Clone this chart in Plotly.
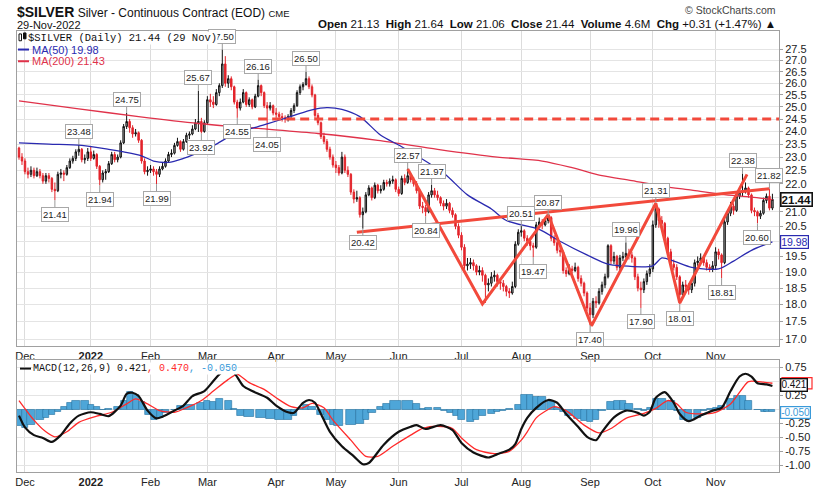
import numpy as np
import pandas as pd
import plotly.graph_objects as go

# trading sessions, 29-Nov-2021 .. 29-Nov-2022 (exchange holidays skipped)
holidays = ['2021-12-24', '2022-01-17', '2022-02-21', '2022-04-15', '2022-05-30',
            '2022-06-20', '2022-07-04', '2022-09-05', '2022-11-24']
dates = [d for d in pd.bdate_range('2021-11-29', '2022-11-29') if d.strftime('%Y-%m-%d') not in holidays]
sessions = list(range(len(dates)))

# daily OHLC, one row per month (Nov-21, Dec, Jan ... Nov-22)
opens = [
    23.35, 23.00,
    22.85, 22.45, 22.35, 22.50, 22.30, 22.45, 22.30, 22.10, 22.30, 22.20, 21.80, 21.75, 22.35, 22.40, 22.35, 22.60, 22.85, 22.95, 23.20, 23.30, 22.90, 22.95,
    23.20, 22.95, 23.10, 22.65, 22.15, 22.40, 22.45, 22.75, 23.10, 22.90, 23.00, 23.55, 24.20, 24.40, 24.15, 23.90, 23.95, 23.65, 22.85, 22.45,
    22.50, 22.55, 22.45, 22.35, 22.55, 22.65, 22.85, 23.10, 23.15, 23.45, 23.60, 23.30, 23.60, 23.85, 23.90, 24.10, 24.35, 24.40, 24.00,
    24.35, 25.30, 25.20, 25.10, 25.60, 25.90, 26.85, 26.00, 26.20, 25.85, 25.20, 24.95, 25.20, 25.60, 25.10, 25.30, 25.00, 25.45, 25.90, 25.60, 25.05, 24.95, 25.05,
    24.75, 24.70, 24.60, 24.55, 24.50, 24.60, 24.85, 25.05, 25.60, 25.85, 25.95, 26.20, 25.85, 25.50, 24.65, 24.35, 23.80, 23.60, 23.30, 23.00,
    22.70, 22.60, 22.40, 23.00, 22.50, 22.35, 21.70, 21.45, 21.50, 20.90, 21.00, 21.60, 21.85, 21.50, 21.95, 21.75, 21.80, 22.05, 22.00, 22.10, 22.15,
    21.80, 21.65, 22.20, 22.05, 22.30, 22.15, 22.00, 21.75, 21.20, 21.15, 21.00, 21.60, 21.75, 21.60, 21.50, 21.30, 21.20, 21.30, 21.05, 20.90, 20.50,
    20.20, 19.80, 19.20, 19.25, 19.30, 19.20, 19.00, 19.05, 18.90, 18.60, 18.65, 18.85, 18.90, 18.70, 18.65, 18.55, 18.40, 18.35, 18.55, 19.90,
    20.30, 20.35, 20.10, 20.00, 19.85, 19.80, 20.55, 20.65, 20.55, 20.70, 20.80, 20.10, 19.95, 19.70, 19.65, 19.05, 18.95, 19.10, 19.05, 19.15, 18.80, 18.65, 18.35,
    17.90, 17.70, 18.10, 18.05, 18.40, 18.60, 18.85, 19.85, 19.35, 19.50, 19.15, 19.45, 19.50, 19.60, 19.55, 19.45, 18.85, 18.50, 18.45, 18.70, 18.95,
    19.10, 20.55, 21.10, 20.70, 20.60, 20.10, 19.65, 19.25, 19.15, 18.85, 18.30, 18.60, 18.55, 18.45, 18.65, 19.30, 19.35, 19.45, 19.30, 19.15, 19.10,
    19.20, 19.65, 19.55, 19.30, 20.65, 20.95, 21.20, 21.05, 21.55, 21.70, 21.75, 21.85, 21.60, 21.05, 21.00, 20.85, 20.95, 21.40, 21.55, 21.13,
]
highs = [
    23.40, 23.15,
    22.95, 22.60, 22.65, 22.60, 22.60, 22.55, 22.40, 22.40, 22.40, 22.25, 22.05, 22.45, 22.55, 22.50, 22.70, 22.95, 23.05, 23.30, 23.48, 23.35, 23.10, 23.35,
    23.40, 23.25, 23.15, 22.70, 22.50, 22.55, 22.85, 23.20, 23.20, 23.10, 23.65, 24.30, 24.75, 24.50, 24.25, 24.10, 24.00, 23.70, 22.95, 22.65,
    22.70, 22.65, 22.55, 22.65, 22.80, 22.95, 23.20, 23.30, 23.55, 23.75, 23.65, 23.70, 23.95, 24.00, 24.25, 24.50, 25.67, 24.55, 24.45,
    25.45, 25.55, 25.45, 25.75, 26.00, 27.50, 27.20, 26.35, 26.30, 25.90, 25.30, 25.35, 25.75, 25.65, 25.40, 25.35, 25.55, 26.16, 25.95, 25.65, 25.20, 25.20, 25.10,
    24.95, 24.80, 24.75, 24.65, 24.70, 24.95, 25.15, 25.70, 25.95, 26.05, 26.50, 26.30, 25.95, 25.55, 24.75, 24.40, 23.95, 23.70, 23.40, 23.10,
    22.85, 22.70, 23.20, 23.10, 22.65, 22.40, 21.80, 21.75, 21.55, 21.15, 21.70, 21.95, 21.90, 22.05, 22.00, 21.95, 22.15, 22.15, 22.20, 22.30, 22.20,
    21.90, 22.30, 22.35, 22.57, 22.40, 22.25, 22.10, 21.80, 21.35, 21.25, 21.70, 21.97, 21.85, 21.75, 21.55, 21.40, 21.45, 21.35, 21.15, 20.95, 20.60,
    20.30, 19.90, 19.45, 19.45, 19.40, 19.25, 19.20, 19.15, 18.95, 18.80, 19.00, 19.05, 18.95, 18.80, 18.75, 18.60, 18.50, 18.70, 20.00, 20.40,
    20.51, 20.40, 20.20, 20.10, 19.95, 20.65, 20.80, 20.75, 20.80, 20.87, 20.85, 20.20, 20.05, 19.80, 19.70, 19.15, 19.25, 19.20, 19.30, 19.20, 18.90, 18.70, 18.40,
    18.05, 18.20, 18.25, 18.50, 18.70, 18.95, 19.90, 19.90, 19.65, 19.55, 19.55, 19.65, 19.96, 19.75, 19.65, 19.50, 18.95, 18.70, 18.80, 19.05, 19.25,
    20.70, 21.31, 21.15, 20.85, 20.65, 20.15, 19.75, 19.40, 19.25, 18.90, 18.70, 18.75, 18.65, 18.75, 19.40, 19.50, 19.60, 19.50, 19.40, 19.25, 19.35,
    19.80, 19.75, 19.60, 20.75, 21.05, 21.35, 21.30, 21.65, 21.85, 22.38, 22.05, 21.90, 21.65, 21.15, 21.05, 21.05, 21.50, 21.65, 21.82, 21.64,
]
lows = [
    22.90, 22.70,
    22.35, 22.20, 22.25, 22.20, 22.25, 22.20, 22.00, 22.00, 22.05, 21.70, 21.41, 21.70, 22.20, 22.10, 22.30, 22.55, 22.75, 22.85, 23.05, 22.80, 22.75, 22.85,
    22.85, 22.90, 22.55, 21.94, 22.05, 22.15, 22.40, 22.70, 22.80, 22.80, 22.95, 23.50, 24.10, 23.95, 23.75, 23.80, 23.55, 22.75, 22.35, 22.30,
    22.40, 22.30, 21.99, 22.25, 22.50, 22.60, 22.80, 23.00, 23.10, 23.40, 23.20, 23.25, 23.55, 23.70, 23.85, 24.05, 23.98, 23.92, 23.95,
    24.30, 25.00, 24.95, 25.05, 25.45, 25.80, 25.85, 25.80, 25.70, 25.10, 24.55, 24.85, 25.15, 25.00, 25.00, 24.90, 24.95, 25.40, 25.45, 24.95, 24.05, 24.85, 24.65,
    24.55, 24.50, 24.40, 24.35, 24.40, 24.55, 24.75, 25.00, 25.50, 25.70, 25.90, 25.75, 25.40, 24.55, 24.25, 23.70, 23.50, 23.20, 22.90, 22.60,
    22.40, 22.30, 22.35, 22.40, 22.25, 21.60, 21.30, 21.35, 20.80, 20.42, 20.95, 21.55, 21.40, 21.45, 21.65, 21.65, 21.75, 21.90, 21.90, 22.00, 21.70,
    21.55, 21.60, 21.95, 22.00, 22.05, 21.90, 21.65, 21.10, 20.95, 20.84, 20.95, 21.50, 21.50, 21.40, 21.20, 21.05, 21.10, 20.95, 20.80, 20.40, 20.10,
    19.70, 19.10, 19.05, 19.10, 19.05, 18.90, 18.90, 18.70, 18.05, 18.40, 18.55, 18.70, 18.55, 18.45, 18.40, 18.25, 18.20, 18.30, 18.50, 19.85,
    20.15, 20.00, 19.85, 19.70, 19.47, 19.75, 20.45, 20.40, 20.50, 20.60, 20.00, 19.85, 19.60, 19.50, 18.95, 18.85, 18.90, 18.95, 19.00, 18.70, 18.55, 18.25, 17.80,
    17.40, 17.60, 17.90, 18.00, 18.30, 18.50, 18.80, 19.25, 19.25, 19.05, 19.00, 19.35, 19.40, 19.40, 19.30, 18.75, 18.40, 17.90, 18.35, 18.60, 18.85,
    19.00, 20.45, 20.45, 20.45, 20.00, 19.55, 19.15, 19.05, 18.75, 18.01, 18.20, 18.40, 18.30, 18.35, 18.55, 19.20, 19.30, 19.20, 19.05, 19.00, 19.00,
    19.10, 19.40, 18.81, 19.25, 20.55, 20.85, 20.90, 21.00, 21.45, 21.55, 21.65, 21.50, 20.95, 20.85, 20.60, 20.75, 20.90, 21.30, 21.05, 21.06,
]
closes = [
    23.00, 22.85,
    22.45, 22.35, 22.50, 22.30, 22.45, 22.30, 22.10, 22.30, 22.20, 21.80, 21.75, 22.35, 22.40, 22.35, 22.60, 22.85, 22.95, 23.20, 23.30, 22.90, 22.95, 23.20,
    22.95, 23.10, 22.65, 22.15, 22.40, 22.45, 22.75, 23.10, 22.90, 23.00, 23.55, 24.20, 24.40, 24.15, 23.90, 23.95, 23.65, 22.85, 22.45, 22.50,
    22.55, 22.45, 22.35, 22.55, 22.65, 22.85, 23.10, 23.15, 23.45, 23.60, 23.30, 23.60, 23.85, 23.90, 24.10, 24.35, 24.40, 24.00, 24.35,
    25.30, 25.20, 25.10, 25.60, 25.90, 26.85, 26.00, 26.20, 25.85, 25.20, 24.95, 25.20, 25.60, 25.10, 25.30, 25.00, 25.45, 25.90, 25.60, 25.05, 24.95, 25.05, 24.75,
    24.70, 24.60, 24.55, 24.50, 24.60, 24.85, 25.05, 25.60, 25.85, 25.95, 26.20, 25.85, 25.50, 24.65, 24.35, 23.80, 23.60, 23.30, 23.00, 22.70,
    22.60, 22.40, 23.00, 22.50, 22.35, 21.70, 21.45, 21.50, 20.90, 21.00, 21.60, 21.85, 21.50, 21.95, 21.75, 21.80, 22.05, 22.00, 22.10, 22.15, 21.80,
    21.65, 22.20, 22.05, 22.30, 22.15, 22.00, 21.75, 21.20, 21.15, 21.00, 21.60, 21.75, 21.60, 21.50, 21.30, 21.20, 21.30, 21.05, 20.90, 20.50, 20.20,
    19.80, 19.20, 19.25, 19.30, 19.20, 19.00, 19.05, 18.90, 18.60, 18.65, 18.85, 18.90, 18.70, 18.65, 18.55, 18.40, 18.35, 18.55, 19.90, 20.30,
    20.35, 20.10, 20.00, 19.85, 19.80, 20.55, 20.65, 20.55, 20.70, 20.80, 20.10, 19.95, 19.70, 19.65, 19.05, 18.95, 19.10, 19.05, 19.15, 18.80, 18.65, 18.35, 17.90,
    17.70, 18.10, 18.05, 18.40, 18.60, 18.85, 19.85, 19.35, 19.50, 19.15, 19.45, 19.50, 19.60, 19.55, 19.45, 18.85, 18.50, 18.45, 18.70, 18.95, 19.10,
    20.55, 21.10, 20.70, 20.60, 20.10, 19.65, 19.25, 19.15, 18.85, 18.30, 18.60, 18.55, 18.45, 18.65, 19.30, 19.35, 19.45, 19.30, 19.15, 19.10, 19.20,
    19.65, 19.55, 19.30, 20.65, 20.95, 21.20, 21.05, 21.55, 21.70, 21.75, 21.85, 21.60, 21.05, 21.00, 20.85, 20.95, 21.40, 21.55, 21.13, 21.44,
]

# moving averages (session number, price)
ma50_days = [0, 10, 21, 30, 35, 41, 45, 50, 55, 61, 66, 72, 83, 92, 98, 103, 108, 114, 121, 128,
             142, 150, 158, 163, 174, 180, 191, 197, 201, 212, 215, 219, 225, 234, 239, 245, 252]
ma50 = [23.55, 23.50, 23.45, 23.30, 23.20, 23.05, 22.85, 22.80, 22.95, 23.22, 23.50, 23.90, 24.30, 24.65, 24.88, 24.97, 24.90, 24.60, 23.85, 23.40,
        22.40, 21.60, 21.10, 20.70, 20.40, 20.05, 19.50, 19.25, 19.20, 19.20, 19.45, 19.35, 19.15, 19.10, 19.35, 19.70, 19.98]
ma200_days = [0, 20, 40, 60, 80, 100, 120, 140, 160, 175, 185, 195, 205, 215, 225, 235, 245, 252]
ma200 = [25.25, 24.92, 24.60, 24.32, 24.12, 23.92, 23.65, 23.30, 23.00, 22.85, 22.60, 22.30, 22.12, 21.92, 21.77, 21.62, 21.52, 21.43]

# labelled swing highs / lows
peak_days = [20, 36, 60, 68, 80, 96, 130, 138, 168, 177, 203, 213, 242, 251]
peak_values = [23.48, 24.75, 25.67, 27.50, 26.16, 26.50, 22.57, 21.97, 20.51, 20.87, 19.96, 21.31, 22.38, 21.82]
trough_days = [12, 27, 46, 61, 73, 83, 115, 136, 172, 191, 208, 221, 235, 247]
trough_values = [21.41, 21.94, 21.99, 23.92, 24.55, 24.05, 20.42, 20.84, 19.47, 17.40, 17.90, 18.01, 18.81, 20.60]

# hand-drawn pattern lines
zigzag_days = [130, 155, 177, 191.5, 213, 221, 243.5]
zigzag_prices = [22.55, 18.02, 20.90, 17.38, 21.30, 18.05, 22.35]
neckline_days = [113, 251]
neckline_prices = [20.30, 21.82]
resistance_days = [80, 255]
resistance_prices = [24.5, 24.5]

# MACD(12,26,9)
macd_days = [0, 2, 5, 8, 11, 14, 17, 20, 24, 27, 30, 34, 36, 38, 40, 43, 46, 48, 52, 55, 58, 62, 65, 67, 70, 72, 75, 78,
             83, 86, 90, 92, 95, 97, 99, 101, 104, 108, 112, 115, 117, 122, 127, 131, 133, 136, 141, 145, 148, 152, 157, 160,
             164, 166, 168, 170, 173, 177, 180, 183, 187, 190, 193, 195, 199, 203, 207, 209, 211, 213, 216, 219, 221, 224, 228,
             232, 235, 238, 241, 243, 245, 247, 250, 252]
macd = [-0.11, -0.32, -0.46, -0.51, -0.58, -0.46, -0.25, -0.11, -0.05, -0.08, -0.12, 0.07, 0.28, 0.30, 0.24, -0.02, -0.16, -0.13,
        -0.02, 0.07, 0.24, 0.33, 0.51, 0.63, 0.74, 0.66, 0.42, 0.33, 0.21, 0.07, -0.05, -0.06, 0.12, 0.17, 0.12, -0.08, -0.40, -0.66,
        -0.84, -0.98, -0.96, -0.63, -0.40, -0.31, -0.28, -0.35, -0.28, -0.37, -0.60, -0.77, -0.86, -0.80, -0.72, -0.62, -0.35, -0.15,
        0.03, 0.17, 0.12, -0.08, -0.31, -0.49, -0.55, -0.40, -0.14, -0.02, -0.06, -0.11, -0.04, 0.21, 0.31, 0.12, -0.08, -0.21, -0.11,
        -0.02, 0.03, 0.33, 0.59, 0.64, 0.59, 0.47, 0.45, 0.421]
signal_days = [0, 5, 9, 12, 16, 20, 26, 31, 36, 39, 43, 47, 52, 56, 61, 65, 70, 73, 77, 82, 86, 91, 95, 98, 102, 105, 111, 116,
               120, 125, 131, 135, 140, 145, 148, 153, 159, 164, 168, 170, 173, 177, 179, 183, 189, 194, 198, 203, 209, 213, 217,
               220, 223, 228, 233, 238, 242, 244, 249, 252]
signal = [0.16, -0.19, -0.40, -0.49, -0.40, -0.23, -0.12, -0.05, 0.10, 0.19, 0.10, -0.02, -0.05, 0.03, 0.16, 0.33, 0.54, 0.63,
          0.48, 0.36, 0.21, 0.05, 0.03, 0.11, 0.03, -0.19, -0.55, -0.84, -0.84, -0.66, -0.46, -0.34, -0.30, -0.34, -0.51, -0.72,
          -0.79, -0.75, -0.55, -0.40, -0.15, 0.00, 0.05, -0.02, -0.28, -0.42, -0.34, -0.16, -0.07, 0.02, 0.16, 0.10, -0.05, -0.08,
          -0.05, 0.10, 0.38, 0.50, 0.49, 0.470]
hist_days = [0, 2, 4, 7, 9, 11, 13, 15, 17, 19, 22, 24, 26, 28, 30, 33, 35, 37, 39, 41, 43, 45, 47, 49, 52, 54, 57, 61, 63, 65,
             67, 70, 72, 74, 77, 81, 84, 87, 90, 92, 94, 96, 98, 101, 103, 105, 107, 111, 114, 116, 118, 121, 123, 126, 130, 133,
             135, 137, 140, 142, 144, 146, 148, 151, 153, 155, 158, 160, 162, 164, 167, 169, 171, 173, 175, 178, 180, 182, 184,
             187, 189, 191, 193, 195, 198, 200, 202, 204, 207, 209, 211, 213, 215, 218, 220, 222, 224, 227, 229, 231, 233, 235,
             238, 240, 242, 244, 247, 249, 250, 252]
hist = [-0.30, -0.32, -0.27, -0.19, -0.14, -0.10, -0.04, 0.04, 0.12, 0.15, 0.15, 0.09, 0.04, -0.01, 0.02, 0.05, 0.16, 0.31, 0.27,
        0.13, -0.10, -0.18, -0.14, -0.06, 0.00, 0.06, 0.09, 0.12, 0.15, 0.13, 0.19, 0.15, 0.02, -0.12, -0.13, -0.14, -0.16, -0.18,
        -0.19, -0.12, 0.02, 0.08, 0.04, -0.10, -0.19, -0.27, -0.30, -0.27, -0.26, -0.19, -0.06, 0.04, 0.11, 0.15, 0.15, 0.11, 0.01,
        0.03, 0.03, -0.02, -0.06, -0.12, -0.19, -0.22, -0.18, -0.12, -0.08, -0.05, -0.03, 0.01, 0.09, 0.26, 0.27, 0.22, 0.22, 0.13,
        0.03, -0.04, -0.11, -0.16, -0.20, -0.22, -0.19, -0.02, 0.13, 0.16, 0.15, 0.11, 0.01, -0.02, 0.03, 0.19, 0.19, 0.15, -0.02,
        -0.18, -0.20, -0.15, -0.02, 0.01, 0.03, 0.07, 0.19, 0.25, 0.25, 0.16, -0.01, -0.04, -0.05, -0.050]

price_ticks = [17.0 + 0.5 * k for k in range(22)]
macd_ticks = [-1.0, -0.75, -0.5, -0.25, 0.0, 0.25, 0.5, 0.75]
# tick labels hidden behind the last-value tags on the right
price_hidden = [20.0, 21.5]
macd_hidden = [0.0, 0.5]

# month starts for the x axis
month_days, month_text = [], []
for i in range(1, len(dates)):
    if dates[i].month != dates[i - 1].month:
        month_days.append(i)
        month_text.append('<b>2022</b>' if dates[i].month == 1 else dates[i].strftime('%b'))

# plot box in window pixels: 17..779 x 31..483
L, R, T, B = 17, 779, 31, 483
def px(x):
    return (x - L) / (R - L)
def py(y):
    return (B - y) / (B - T)

RED = '#e3242b'
MA_RED = '#e0324a'
MA_BLUE = '#2a2ab0'
PATTERN = '#f2493b'
HIST_BLUE = '#4ea6d8'
SIG_BLUE = '#3a9ad9'
SANS = 'Liberation Sans'
MONO = 'Liberation Mono'

fig = go.Figure()

fig.add_trace(go.Candlestick(
    x=sessions, open=opens, high=highs, low=lows, close=closes,
    increasing=dict(line=dict(color='#111111', width=1), fillcolor='#a9a9a9'),
    decreasing=dict(line=dict(color=RED, width=1), fillcolor=RED),
    whiskerwidth=0, hoverinfo='skip', xaxis='x', yaxis='y'))

fig.add_trace(go.Scatter(x=ma200_days, y=ma200, mode='lines', hoverinfo='skip',
                         line=dict(color=MA_RED, width=1.3, shape='spline', smoothing=0.8)))
fig.add_trace(go.Scatter(x=ma50_days, y=ma50, mode='lines', hoverinfo='skip',
                         line=dict(color=MA_BLUE, width=1.3, shape='spline', smoothing=0.8)))

fig.add_trace(go.Scatter(x=resistance_days, y=resistance_prices, mode='lines', hoverinfo='skip',
                         line=dict(color=PATTERN, width=3, dash='9px,5px')))
fig.add_trace(go.Scatter(x=neckline_days, y=neckline_prices, mode='lines', hoverinfo='skip',
                         line=dict(color=PATTERN, width=3)))
fig.add_trace(go.Scatter(x=zigzag_days, y=zigzag_prices, mode='lines', hoverinfo='skip',
                         line=dict(color=PATTERN, width=3)))

# MACD panel
widths = np.gradient(np.array(hist_days, dtype=float))
fig.add_trace(go.Bar(x=hist_days, y=hist, width=widths, xaxis='x2', yaxis='y2', hoverinfo='skip',
                     marker=dict(color=HIST_BLUE, line=dict(color='#2470a0', width=0.6))))
fig.add_trace(go.Scatter(x=signal_days, y=signal, mode='lines', xaxis='x2', yaxis='y2', hoverinfo='skip',
                         line=dict(color='#ff2a2a', width=1.3, shape='spline', smoothing=0.7)))
fig.add_trace(go.Scatter(x=macd_days, y=macd, mode='lines', xaxis='x2', yaxis='y2', hoverinfo='skip',
                         line=dict(color='#111111', width=2.2, shape='spline', smoothing=0.7)))

xcommon = dict(range=[-0.67, 254.2], tickvals=month_days, ticktext=month_text, showgrid=True,
               gridcolor='#dcdcdc', zeroline=False, showline=True, mirror=True, linecolor='#a0a0a0',
               ticks='', tickfont=dict(family=SANS, size=11, color='#222'), fixedrange=True)

fig.update_layout(
    width=825, height=500,
    margin=dict(l=L, r=825 - R, t=T, b=500 - B),
    paper_bgcolor='white', plot_bgcolor='white',
    showlegend=False, bargap=0, hovermode=False,
    font=dict(family=SANS, size=11, color='#222'),
    xaxis=dict(xcommon, anchor='y', rangeslider=dict(visible=False)),
    xaxis2=dict(xcommon, anchor='y2', matches='x'),
    yaxis=dict(type='log', domain=[py(354), 1], side='right', anchor='x',
               range=[np.log10(16.80), np.log10(28.36)],
               tickvals=price_ticks,
               ticktext=['' if v in price_hidden else f'{v:.1f}' for v in price_ticks],
               gridcolor='#e4e4e4', zeroline=False, showline=True, mirror=True, linecolor='#a0a0a0',
               ticks='outside', ticklen=3, tickcolor='#a0a0a0', tickfont=dict(size=11)),
    yaxis2=dict(domain=[0, py(368)], side='right', anchor='x2', range=[-1.12, 0.89],
                tickvals=macd_ticks,
                ticktext=['' if v in macd_hidden else f'{v:.2f}' for v in macd_ticks],
                gridcolor='#e4e4e4', zeroline=False, showline=True, mirror=True, linecolor='#a0a0a0',
                ticks='outside', ticklen=3, tickcolor='#a0a0a0', tickfont=dict(size=11)),
)

# swing labels
for d, v in zip(peak_days, peak_values):
    fig.add_annotation(x=d, y=np.log10(v), xref='x', yref='y', text=f'{v:.2f}', showarrow=True,
                       ax=0, ay=-13, arrowhead=0, arrowwidth=1, arrowcolor='#9a9a9a', standoff=0,
                       bordercolor='#a8a8a8', borderwidth=1, borderpad=1, bgcolor='white',
                       font=dict(size=9.5, color='#222'))
for d, v in zip(trough_days, trough_values):
    fig.add_annotation(x=d, y=np.log10(v), xref='x', yref='y', text=f'{v:.2f}', showarrow=True,
                       ax=0, ay=14, arrowhead=0, arrowwidth=1, arrowcolor='#9a9a9a', standoff=0,
                       bordercolor='#a8a8a8', borderwidth=1, borderpad=1, bgcolor='white',
                       font=dict(size=9.5, color='#222'))

# in-panel legends
fig.add_annotation(xref='paper', yref='paper', x=px(27), y=py(38), xanchor='left', yanchor='middle',
                   text='$SILVER (Daily) 21.44 (29 Nov)', showarrow=False, bgcolor='white', borderpad=0,
                   font=dict(family=MONO, size=10.5, color='#111'))
fig.add_annotation(xref='paper', yref='paper', x=px(30), y=py(50), xanchor='left', yanchor='middle',
                   text='MA(50) 19.98', showarrow=False, font=dict(size=11, color=MA_BLUE))
fig.add_annotation(xref='paper', yref='paper', x=px(30), y=py(62), xanchor='left', yanchor='middle',
                   text='MA(200) 21.43', showarrow=False, font=dict(size=11, color=MA_RED))
fig.add_annotation(xref='paper', yref='paper', x=px(32), y=py(377), xanchor='left', yanchor='middle',
                   text=("MACD(12,26,9) 0.421<span style='color:#ff2a2a'>, 0.470</span>"
                         f"<span style='color:{SIG_BLUE}'>, -0.050</span>"),
                   showarrow=False, bgcolor='white', borderpad=0,
                   font=dict(family=MONO, size=10, color='#111'))

shapes = [
    dict(type='rect', xref='paper', yref='paper', x0=px(19), x1=px(21.5), y0=py(41), y1=py(34),
         line=dict(color='#111', width=1), fillcolor='white'),
    dict(type='rect', xref='paper', yref='paper', x0=px(23.5), x1=px(26), y0=py(39), y1=py(33),
         line=dict(color='#111', width=1), fillcolor='#111'),
    dict(type='line', xref='paper', yref='paper', x0=px(18), x1=px(29), y0=py(50), y1=py(50),
         line=dict(color=MA_BLUE, width=2)),
    dict(type='line', xref='paper', yref='paper', x0=px(18), x1=px(29), y0=py(62), y1=py(62),
         line=dict(color=MA_RED, width=2)),
    dict(type='line', xref='paper', yref='paper', x0=px(20), x1=px(31), y0=py(377), y1=py(377),
         line=dict(color='#111', width=2)),
    # signal-line tag peeking out behind the MACD tag
    dict(type='rect', xref='paper', yref='y2', x0=px(782), x1=px(812), y0=0.47 - 0.1, y1=0.47 + 0.1,
         line=dict(color='#ff2a2a', width=1.2), fillcolor='white'),
]
fig.update_layout(shapes=shapes)

# last-value tags on the right
def tag(y, yref, text, color, bold=False, size=10.5, width=1.2, yshift=0):
    fig.add_annotation(xref='paper', x=1, xshift=1, xanchor='left', yref=yref, y=y, yanchor='middle',
                       yshift=yshift, text=f'<b>{text}</b>' if bold else text, showarrow=False,
                       bordercolor=color, borderwidth=width, borderpad=0, bgcolor='white',
                       font=dict(size=size, color=color if not bold else '#111'))

tag(np.log10(21.44), 'y', '21.44', '#111', bold=True, size=11.5, width=1.6)
tag(np.log10(19.98), 'y', '19.98', MA_BLUE)
tag(0.421, 'y2', '0.421', '#111', size=10, width=1.4, yshift=1)
tag(-0.050, 'y2', '-0.050', SIG_BLUE, size=10)

# header
fig.add_annotation(xref='paper', yref='paper', x=px(15), y=py(12), xanchor='left', yanchor='middle',
                   text=("<b><span style='font-size:14px'>$SILVER</span></b> Silver - Continuous Contract (EOD) "
                         "<span style='font-size:9.5px'>CME</span>"),
                   showarrow=False, font=dict(size=12, color='#111'))
fig.add_annotation(xref='paper', yref='paper', x=px(15), y=py(24.5), xanchor='left', yanchor='middle',
                   text='29-Nov-2022', showarrow=False, font=dict(size=11, color='#111'))
fig.add_annotation(xref='paper', yref='paper', x=px(778), y=py(9.5), xanchor='right', yanchor='middle',
                   text='© StockCharts.com', showarrow=False, font=dict(size=10.5, color='#444'))
fig.add_annotation(xref='paper', yref='paper', x=px(778), y=py(24), xanchor='right', yanchor='middle',
                   text=('<b>Open</b> 21.13  <b>High</b> 21.64  <b>Low</b> 21.06  <b>Close</b> 21.44  '
                         '<b>Volume</b> 4.6M  <b>Chg</b> +0.31 (+1.47%) ▲'),
                   showarrow=False, font=dict(size=11.5, color='#111'))

# the page body's default 8px margin would push the figure off its 825x500 frame
fig.write_html("out.html", config={'displayModeBar': False},
               post_script="document.body.style.margin = '0px';")
